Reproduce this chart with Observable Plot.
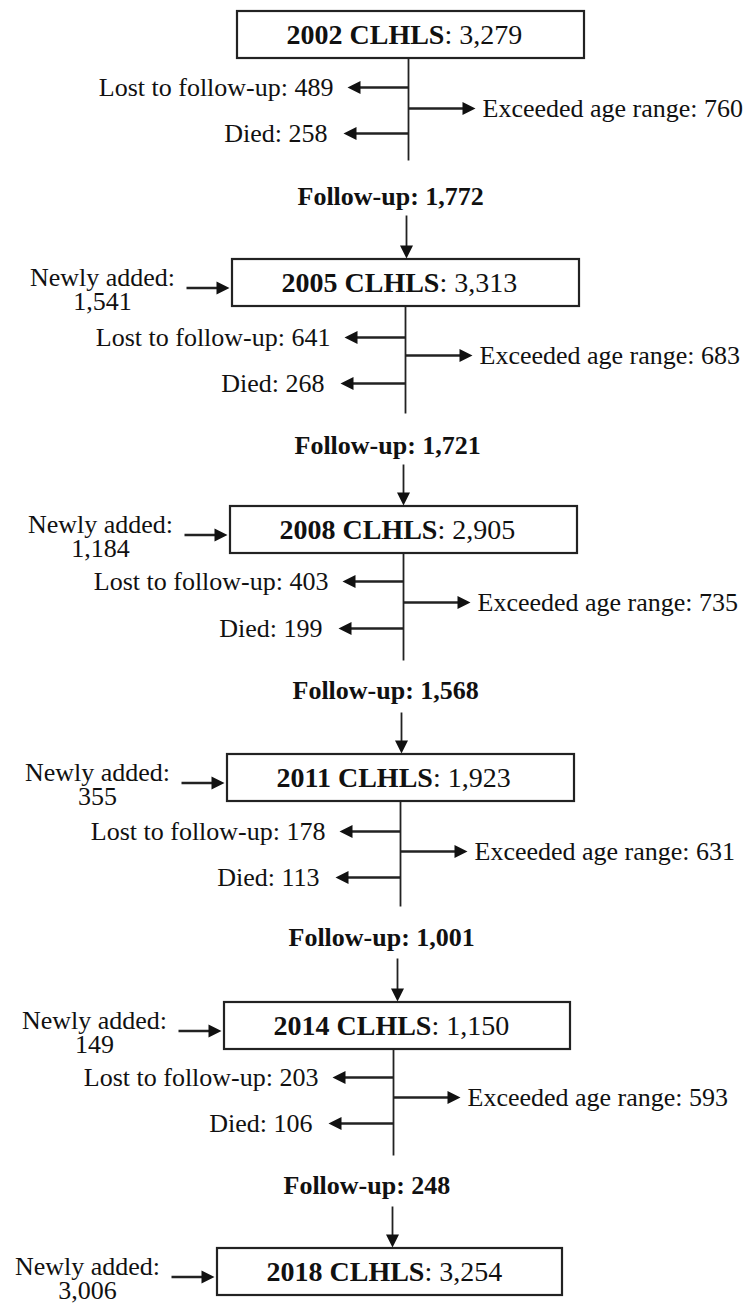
<!DOCTYPE html>
<html><head><meta charset="utf-8">
<script src="https://cdn.jsdelivr.net/npm/d3@7"></script>
<script src="https://cdn.jsdelivr.net/npm/@observablehq/plot@0.6"></script>
<style>body{margin:0;background:#fff}</style>
</head><body><div id="chart"></div>
<script>
// ---- data ----
const years = [2002, 2005, 2008, 2011, 2014, 2018];
const totals = [3279, 3313, 2905, 1923, 1150, 3254];
const newlyAdded = [null, 1541, 1184, 355, 149, 3006];
const lost = [489, 641, 403, 178, 203];
const died = [258, 268, 199, 113, 106];
const exceeded = [760, 683, 735, 631, 593];
const followUp = [1772, 1721, 1568, 1001, 248];

// ---- layout (pixel positions of the flowchart) ----
const W = 751, H = 1303;
const boxLeft = [237, 232, 230, 227, 224, 217];
const boxRight = [584, 579, 577, 574, 570, 562];
const boxTop = [11, 259, 506, 754, 1002, 1248];
const boxH = 47;
const stemX = [408, 405, 403, 400, 393];
const stemEnd = [160, 413, 660, 906, 1155];
const lostY = [87, 337, 581, 831, 1077];
const exceedY = [108, 355, 602, 851, 1097];
const diedY = [133, 383, 628, 877, 1123];
const followY = [196, 445, 690, 937, 1185];
const arrowX = [406, 403, 401, 397, 392];
const arrowTop = [215, 464, 712, 958, 1206];

const FONT = '"Liberation Serif", "Times New Roman", serif';
const fmt = d3.format(",");
const ink = "#111";

const ctx = document.createElement("canvas").getContext("2d");
function measure(text, size, weight) {
  ctx.font = `${weight} ${size}px ${FONT}`;
  return ctx.measureText(text).width;
}

const BOX_FS = 28, LBL_FS = 26, FU_FS = 26;

const boxes = years.map((y, i) => ({
  year: y, total: totals[i], added: newlyAdded[i],
  x1: boxLeft[i], x2: boxRight[i], y1: boxTop[i], y2: boxTop[i] + boxH,
  cy: boxTop[i] + boxH / 2,
  bold: `${y} CLHLS`,
  tx: boxLeft[i] + 49
}));
boxes.forEach(b => { b.tx2 = b.tx + measure(b.bold, BOX_FS, "bold"); });

const steps = lost.map((v, i) => ({
  lost: v, died: died[i], exceeded: exceeded[i], follow: followUp[i],
  sx: stemX[i], sy1: boxTop[i] + boxH, sy2: stemEnd[i],
  ly: lostY[i], ey: exceedY[i], dy: diedY[i],
  fy: followY[i], ax: arrowX[i], ay1: arrowTop[i], ay2: boxTop[i + 1]
}));

const added = boxes.filter(b => b.added != null);

// arrowhead symbol: tip at origin, pointing right
const head = { draw(c) { c.moveTo(0, 0); c.lineTo(-13, -6.5); c.lineTo(-13, 6.5); c.closePath(); } };

// horizontal arrows
const hArrows = [];
steps.forEach(s => {
  hArrows.push({ x1: s.sx, x2: s.sx - 61, y: s.ly, dir: 180 });
  hArrows.push({ x1: s.sx, x2: s.sx + 67, y: s.ey, dir: 0 });
  hArrows.push({ x1: s.sx, x2: s.sx - 65, y: s.dy, dir: 180 });
});
added.forEach(b => hArrows.push({ x1: b.x1 - 46, x2: b.x1 - 3, y: b.cy + 5, dir: 0 }));

const vArrows = steps.map(s => ({ x: s.ax, y1: s.ay1, y2: s.ay2 - 1 }));

const chart = Plot.plot({
  width: W, height: H, margin: 0,
  x: { domain: [0, W], range: [0, W], axis: null },
  y: { domain: [0, H], range: [0, H], axis: null },
  style: { fontFamily: FONT, background: "#fff", color: ink },
  marks: [
    Plot.rect(boxes, { x1: "x1", x2: "x2", y1: "y1", y2: "y2", fill: "#fff", stroke: "#222", strokeWidth: 2.2 }),
    Plot.link(steps, { x1: "sx", x2: "sx", y1: "sy1", y2: "sy2", stroke: "#222", strokeWidth: 1.8 }),
    Plot.link(hArrows, { x1: "x1", x2: d => d.x2 - (d.dir === 0 ? 10 : -10), y1: "y", y2: "y", stroke: "#222", strokeWidth: 2.6 }),
    Plot.dot(hArrows, { x: "x2", y: "y", symbol: head, r: 5, rotate: "dir", fill: "#111", stroke: "none" }),
    Plot.link(vArrows, { x1: "x", x2: "x", y1: "y1", y2: d => d.y2 - 10, stroke: "#222", strokeWidth: 1.8 }),
    Plot.dot(vArrows, { x: "x", y: "y2", symbol: head, r: 5, rotate: 90, fill: "#111", stroke: "none" }),
    // box labels
    Plot.text(boxes, { x: "tx", y: "cy", text: "bold", textAnchor: "start", fontWeight: "bold", fontSize: BOX_FS, fill: ink }),
    Plot.text(boxes, { x: "tx2", y: "cy", text: d => `: ${fmt(d.total)}`, textAnchor: "start", fontSize: BOX_FS, fill: ink }),
    // exits
    Plot.text(steps, { x: d => d.sx - 75, y: "ly", text: d => `Lost to follow-up: ${fmt(d.lost)}`, textAnchor: "end", fontSize: LBL_FS, fill: ink }),
    Plot.text(steps, { x: d => d.sx - 81, y: "dy", text: d => `Died: ${fmt(d.died)}`, textAnchor: "end", fontSize: LBL_FS, fill: ink }),
    Plot.text(steps, { x: d => d.sx + 74, y: "ey", text: d => `Exceeded age range: ${fmt(d.exceeded)}`, textAnchor: "start", fontSize: LBL_FS, fill: ink }),
    // follow-up
    Plot.text(steps, { x: d => d.ax - 109, y: "fy", text: d => `Follow-up: ${fmt(d.follow)}`, textAnchor: "start", fontWeight: "bold", fontSize: FU_FS, fill: ink }),
    // newly added
    Plot.text(added, { x: d => d.x1 - 130, y: d => d.cy + 7, text: d => `Newly added:\n${fmt(d.added)}`, textAnchor: "middle", lineHeight: 0.92, fontSize: LBL_FS, fill: ink })
  ]
});
document.getElementById("chart").appendChild(chart);
</script>
</body></html>
